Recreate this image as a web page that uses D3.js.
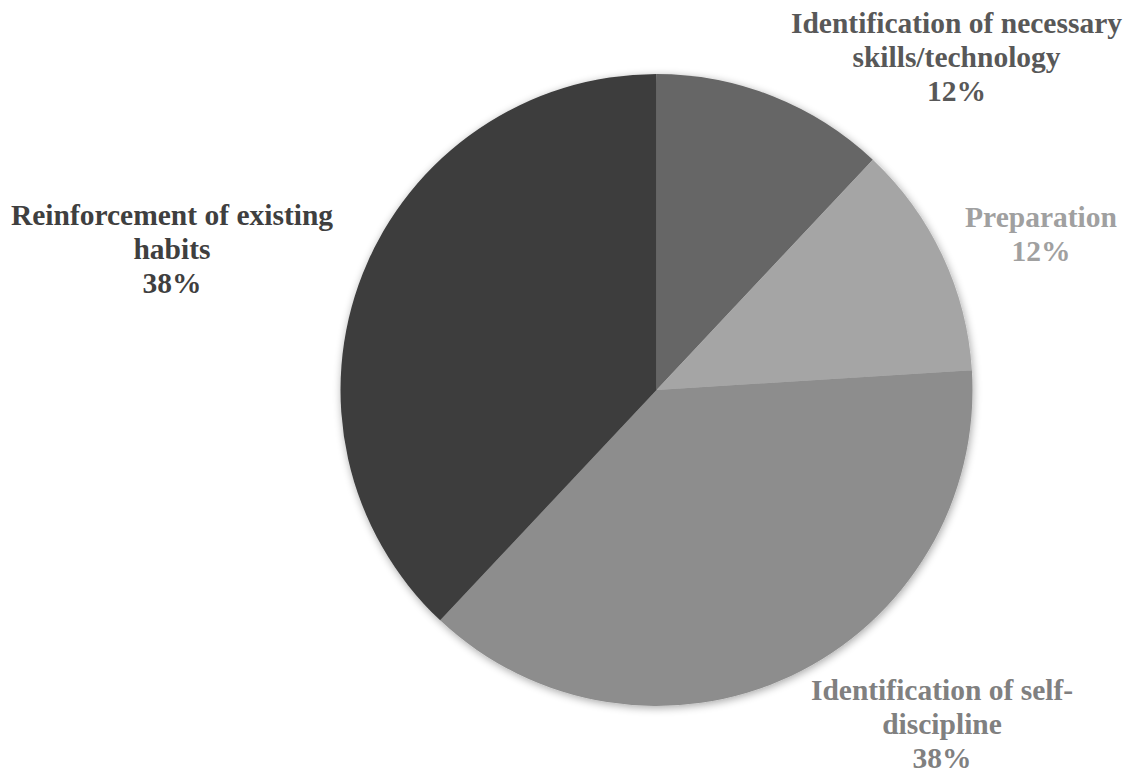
<!DOCTYPE html>
<meta charset="utf-8">
<style>
  body { margin: 0; background: #fff; }
</style>
<body>
<div id="my_dataviz"></div>
<script src="https://d3js.org/d3.v7.js"></script>
<script>

// data
var categories = ["Identification of necessary skills/technology", "Preparation", "Identification of self-discipline", "Reinforcement of existing habits"];
var values = [12, 12, 38, 38];
// where each label breaks into lines
var labelLines = [
  ["Identification of necessary", "skills/technology"],
  ["Preparation"],
  ["Identification of self-", "discipline"],
  ["Reinforcement of existing", "habits"]
];

var sliceColors = ["#666666", "#a5a5a5", "#8d8d8d", "#3d3d3d"];
var textColors = ["#585858", "#a0a0a0", "#808080", "#3f3f3f"];

var width = 1139, height = 773;
var cx = 656.5, cy = 390, radius = 316;

// label anchor: centre x and first baseline (Excel best-fit placement)
var labelAnchor = [[956.5, 33], [1041, 227], [942, 700], [172, 225]];
var lineHeight = 34;

var svg = d3.select("#my_dataviz").append("svg")
    .attr("width", width)
    .attr("height", height);

var defs = svg.append("defs");
var filter = defs.append("filter").attr("id", "shadow")
    .attr("x", "-10%").attr("y", "-10%").attr("width", "120%").attr("height", "120%");
filter.append("feGaussianBlur").attr("in", "SourceAlpha").attr("stdDeviation", 4);
filter.append("feOffset").attr("dx", 1).attr("dy", 2).attr("result", "blur");
filter.append("feComponentTransfer").append("feFuncA").attr("type", "linear").attr("slope", 0.35);
var merge = filter.append("feMerge");
merge.append("feMergeNode");
merge.append("feMergeNode").attr("in", "SourceGraphic");

var color = d3.scaleOrdinal().domain(categories).range(sliceColors);
var tcolor = d3.scaleOrdinal().domain(categories).range(textColors);

var data = categories.map(function(c, i) { return {name: c, value: values[i], lines: labelLines[i], i: i}; });

var pie = d3.pie().value(function(d) { return d.value; }).sort(null);
var arc = d3.arc().innerRadius(0).outerRadius(radius);

var g = svg.append("g")
    .attr("transform", "translate(" + cx + "," + cy + ")")
    .attr("filter", "url(#shadow)");

g.selectAll("path")
  .data(pie(data))
  .enter()
  .append("path")
    .attr("d", arc)
    .attr("fill", function(d) { return color(d.data.name); });

var total = d3.sum(values);

var labels = svg.selectAll(".label")
  .data(data)
  .enter()
  .append("text")
    .attr("class", "label")
    .attr("text-anchor", "middle")
    .attr("font-family", "'Liberation Serif', 'Times New Roman', serif")
    .attr("font-weight", "bold")
    .attr("font-size", "29.5px")
    .attr("fill", function(d) { return tcolor(d.name); });

labels.each(function(d) {
  var lines = d.lines.concat([Math.round(d.value / total * 100) + "%"]);
  var a = labelAnchor[d.i];
  var t = d3.select(this);
  lines.forEach(function(l, k) {
    t.append("tspan")
      .attr("x", a[0])
      .attr("y", a[1] + k * lineHeight)
      .text(l);
  });
});

</script>
</body>
</html>
